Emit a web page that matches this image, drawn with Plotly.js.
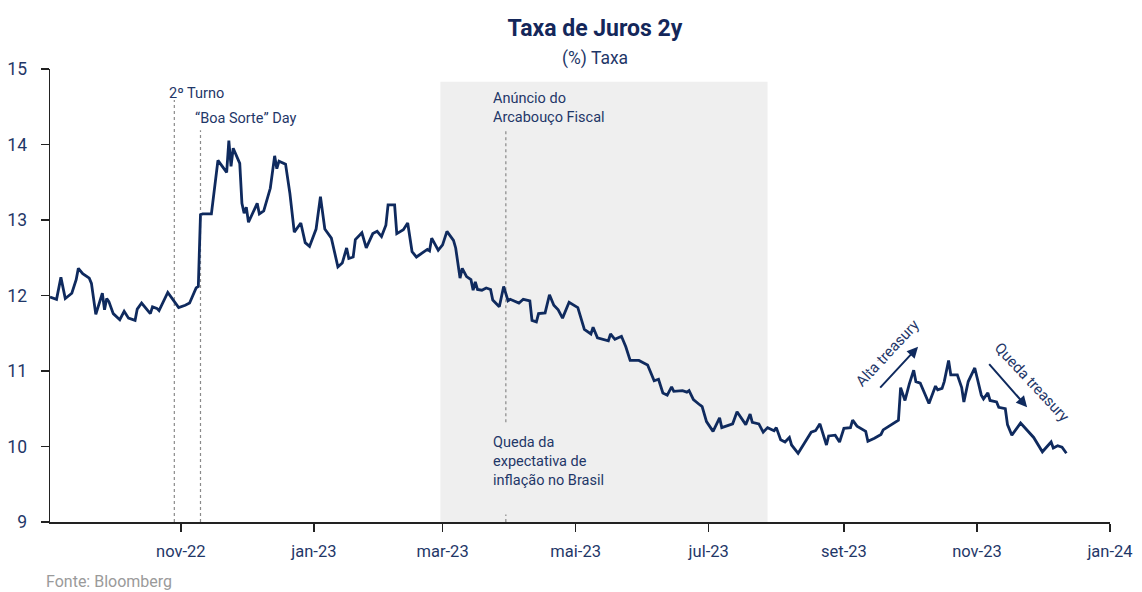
<!DOCTYPE html>
<html>
<head>
<meta charset="utf-8">
<script src="https://cdn.plot.ly/plotly-3.0.1.min.js"></script>
<style>
  html, body { margin: 0; padding: 0; background: #fff; }
  #chart { width: 1142px; height: 592px; }
</style>
</head>
<body>
<div id="chart"></div>
<script>
// ---- Data ----
const dates = [
  '2022-09-02','2022-09-05','2022-09-07','2022-09-09','2022-09-12','2022-09-14','2022-09-15','2022-09-17',
  '2022-09-20','2022-09-21','2022-09-23','2022-09-26','2022-09-27','2022-09-28','2022-09-29','2022-10-01',
  '2022-10-04','2022-10-06','2022-10-08','2022-10-11','2022-10-12','2022-10-14','2022-10-18','2022-10-19',
  '2022-10-21','2022-10-22','2022-10-26','2022-10-31','2022-11-03','2022-11-05','2022-11-08','2022-11-09',
  '2022-11-10','2022-11-11','2022-11-15','2022-11-18','2022-11-22','2022-11-23','2022-11-24','2022-11-25',
  '2022-11-28','2022-11-29','2022-11-30','2022-12-01','2022-12-02','2022-12-06','2022-12-07','2022-12-09',
  '2022-12-12','2022-12-14','2022-12-15','2022-12-16','2022-12-19','2022-12-21','2022-12-23','2022-12-26',
  '2022-12-28','2022-12-30','2023-01-02','2023-01-04','2023-01-06','2023-01-09','2023-01-12','2023-01-14',
  '2023-01-16','2023-01-17','2023-01-19','2023-01-20','2023-01-23','2023-01-25','2023-01-28','2023-01-30',
  '2023-02-01','2023-02-03','2023-02-04','2023-02-07','2023-02-08','2023-02-11','2023-02-13','2023-02-15',
  '2023-02-17','2023-02-22','2023-02-23','2023-02-24','2023-02-27','2023-03-01','2023-03-03','2023-03-06',
  '2023-03-07','2023-03-09','2023-03-10','2023-03-12','2023-03-14','2023-03-15','2023-03-16','2023-03-17',
  '2023-03-19','2023-03-21','2023-03-23','2023-03-24','2023-03-27','2023-03-29','2023-03-31','2023-04-01',
  '2023-04-05','2023-04-07','2023-04-10','2023-04-11','2023-04-13','2023-04-14','2023-04-17','2023-04-19',
  '2023-04-21','2023-04-23','2023-04-25','2023-04-28','2023-05-02','2023-05-05','2023-05-08','2023-05-09',
  '2023-05-11','2023-05-13','2023-05-16','2023-05-17','2023-05-19','2023-05-22','2023-05-24','2023-05-26',
  '2023-05-28','2023-05-30','2023-06-01','2023-06-03','2023-06-06','2023-06-08','2023-06-10','2023-06-12',
  '2023-06-14','2023-06-15','2023-06-19','2023-06-21','2023-06-22','2023-06-24','2023-06-27','2023-06-28',
  '2023-06-30','2023-07-03','2023-07-06','2023-07-07','2023-07-11','2023-07-12','2023-07-14','2023-07-16',
  '2023-07-18','2023-07-20','2023-07-21','2023-07-24','2023-07-26','2023-07-28','2023-07-31','2023-08-01',
  '2023-08-03','2023-08-05','2023-08-07','2023-08-08','2023-08-11','2023-08-14','2023-08-17','2023-08-19',
  '2023-08-21','2023-08-24','2023-08-25','2023-08-28','2023-08-30','2023-09-01','2023-09-04','2023-09-05',
  '2023-09-07','2023-09-11','2023-09-12','2023-09-15','2023-09-18','2023-09-19','2023-09-22','2023-09-25',
  '2023-09-26','2023-09-27','2023-09-29','2023-10-01','2023-10-03','2023-10-04','2023-10-06','2023-10-10',
  '2023-10-13','2023-10-14','2023-10-16','2023-10-17','2023-10-19','2023-10-20','2023-10-23','2023-10-25',
  '2023-10-26','2023-10-28','2023-10-31','2023-11-01','2023-11-03','2023-11-04','2023-11-06','2023-11-07',
  '2023-11-10','2023-11-11','2023-11-14','2023-11-15','2023-11-17','2023-11-21','2023-11-24','2023-11-27',
  '2023-12-01','2023-12-05','2023-12-06','2023-12-08','2023-12-10','2023-12-12'
];
const taxa = [
  11.98,11.95,12.24,11.96,12.03,12.21,12.36,12.29,
  12.23,12.16,11.75,12.03,11.81,11.96,11.92,11.76,
  11.68,11.79,11.70,11.67,11.82,11.90,11.76,11.85,
  11.83,11.80,12.04,11.84,11.87,11.90,12.10,12.12,
  13.07,13.08,13.08,13.79,13.63,14.05,13.71,13.95,
  13.75,13.22,13.09,13.17,12.97,13.22,13.08,13.12,
  13.42,13.85,13.68,13.78,13.74,13.35,12.84,12.96,
  12.70,12.65,12.88,13.31,12.88,12.76,12.38,12.43,
  12.63,12.49,12.51,12.74,12.83,12.63,12.82,12.85,
  12.78,12.93,13.20,13.20,12.82,12.87,12.96,12.58,
  12.51,12.61,12.59,12.76,12.60,12.67,12.85,12.73,
  12.63,12.23,12.36,12.25,12.21,12.07,12.18,12.08,
  12.07,12.10,12.08,11.94,11.85,12.12,11.93,11.95,
  11.90,11.95,11.93,11.67,11.65,11.76,11.77,12.01,
  11.87,11.81,11.70,11.91,11.84,11.55,11.49,11.58,
  11.44,11.42,11.40,11.49,11.42,11.46,11.32,11.14,
  11.14,11.14,11.11,11.08,10.87,10.89,10.71,10.68,
  10.79,10.73,10.74,10.72,10.74,10.62,10.55,10.53,
  10.33,10.20,10.38,10.25,10.29,10.30,10.46,10.38,
  10.29,10.43,10.32,10.30,10.19,10.25,10.21,10.25,
  10.09,10.06,10.12,10.02,9.91,10.05,10.19,10.21,
  10.30,10.02,10.14,10.15,10.06,10.24,10.25,10.35,
  10.27,10.20,10.07,10.11,10.16,10.22,10.28,10.33,
  10.35,10.78,10.61,10.83,11.01,10.86,10.84,10.57,
  10.80,10.75,10.77,10.86,11.14,10.95,10.95,10.78,
  10.59,10.86,11.04,10.92,10.68,10.63,10.71,10.61,
  10.59,10.52,10.50,10.29,10.15,10.31,10.22,10.12,
  9.93,10.06,9.98,10.01,9.99,9.91
];
const tickDates  = ['2022-11-01','2023-01-01','2023-03-01','2023-05-01','2023-07-01','2023-09-01','2023-11-01','2024-01-01'];
const tickLabels = ['nov-22','jan-23','mar-23','mai-23','jul-23','set-23','nov-23','jan-24'];
const yTicks = [9, 10, 11, 12, 13, 14, 15];

const eventTurno = '2022-10-29';
const eventBoaSorte = '2022-11-10';
const eventArcabouco = '2023-03-30';
const shadeStart = '2023-02-28';
const shadeEnd = '2023-07-28';

// ---- Styling ----
const NAVY = '#0f2a5e';
const TEXT = '#1f3768';
const FONT = 'Roboto, "Liberation Sans", sans-serif';

const trace = {
  x: dates, y: taxa, type: 'scatter', mode: 'lines',
  line: { color: NAVY, width: 2.8 },
  hoverinfo: 'skip'
};

const dashed = { color: '#8a8a8a', width: 1.2, dash: '3px,3px' };

const layout = {
  width: 1142, height: 592,
  margin: { l: 50, r: 32, t: 69, b: 70 },
  paper_bgcolor: '#ffffff', plot_bgcolor: '#ffffff',
  showlegend: false,
  font: { family: FONT, color: TEXT },
  title: {
    text: '<b>Taxa de Juros 2y</b>',
    font: { family: FONT, size: 23, color: '#14275a' },
    x: 0.521, xanchor: 'center', xref: 'container',
    y: 0.953, yanchor: 'middle', yref: 'container'
  },
  xaxis: {
    type: 'date',
    range: ['2022-09-02', '2024-01-01'],
    tickvals: tickDates, ticktext: tickLabels,
    ticks: 'outside', ticklen: 8, tickcolor: '#222', tickwidth: 1.3,
    showline: true, linecolor: '#222', linewidth: 1.5,
    showgrid: false, zeroline: false,
    tickfont: { family: FONT, size: 16.5, color: TEXT },
    ticklabelstandoff: 6,
    fixedrange: true
  },
  yaxis: {
    range: [9, 15],
    tickvals: yTicks,
    ticks: 'outside', ticklen: 8, tickcolor: '#222', tickwidth: 1.3,
    showline: true, linecolor: '#222', linewidth: 1.5,
    showgrid: false, zeroline: false,
    tickfont: { family: FONT, size: 17.5, color: TEXT },
    ticklabelstandoff: 10,
    fixedrange: true
  },
  shapes: [
    { type: 'rect', xref: 'x', yref: 'y', x0: shadeStart, x1: shadeEnd, y0: 9, y1: 14.83,
      fillcolor: '#efefef', line: { width: 0 }, layer: 'below' },
    { type: 'line', xref: 'x', yref: 'y', x0: eventTurno, x1: eventTurno, y0: 9, y1: 14.59, line: dashed, layer: 'below' },
    { type: 'line', xref: 'x', yref: 'y', x0: eventBoaSorte, x1: eventBoaSorte, y0: 9, y1: 14.19, line: dashed, layer: 'below' },
    { type: 'line', xref: 'x', yref: 'y', x0: eventArcabouco, x1: eventArcabouco, y0: 10.32, y1: 14.19, line: dashed, layer: 'below' },
    { type: 'line', xref: 'x', yref: 'y', x0: eventArcabouco, x1: eventArcabouco, y0: 9, y1: 9.1, line: dashed, layer: 'below' }
  ],
  annotations: [
    { text: '(%) Taxa', xref: 'paper', yref: 'paper', x: 0.514, y: 1.024,
      xanchor: 'center', yanchor: 'middle', showarrow: false,
      font: { family: FONT, size: 17.5, color: TEXT } },
    { text: '2º Turno', xref: 'x', yref: 'y', x: '2022-10-27', y: 14.68, xshift: -3,
      xanchor: 'left', yanchor: 'middle', showarrow: false,
      font: { family: FONT, size: 14.5, color: TEXT } },
    { text: '“Boa Sorte” Day', xref: 'x', yref: 'y', x: '2022-11-08', y: 14.35, xshift: -3,
      xanchor: 'left', yanchor: 'middle', showarrow: false,
      font: { family: FONT, size: 14.5, color: TEXT } },
    { text: 'Anúncio do<br>Arcabouço Fiscal', xref: 'x', yref: 'y', x: '2023-03-25', y: 14.48, xshift: -4,
      xanchor: 'left', yanchor: 'middle', align: 'left', showarrow: false,
      font: { family: FONT, size: 14.5, color: TEXT } },
    { text: 'Queda da<br>expectativa de<br>inflação no Brasil', xref: 'x', yref: 'y', x: '2023-03-25', y: 9.795, xshift: -4,
      xanchor: 'left', yanchor: 'middle', align: 'left', showarrow: false,
      font: { family: FONT, size: 14.5, color: TEXT } },
    { text: '', xref: 'x', yref: 'y', axref: 'x', ayref: 'y',
      x: '2023-10-05', y: 11.32, ax: '2023-09-17', ay: 10.76,
      showarrow: true, arrowhead: 2, arrowsize: 1.1, arrowwidth: 2, arrowcolor: NAVY },
    { text: '', xref: 'x', yref: 'y', axref: 'x', ayref: 'y',
      x: '2023-11-24', y: 10.52, ax: '2023-11-06', ay: 11.11,
      showarrow: true, arrowhead: 2, arrowsize: 1.1, arrowwidth: 2, arrowcolor: NAVY },
    { text: 'Alta treasury', xref: 'x', yref: 'y', x: '2023-09-21', y: 11.24,
      textangle: -47, showarrow: false, xanchor: 'center', yanchor: 'middle',
      font: { family: FONT, size: 15, color: TEXT } },
    { text: 'Queda treasury', xref: 'x', yref: 'y', x: '2023-11-26', y: 10.85,
      textangle: 47, showarrow: false, xanchor: 'center', yanchor: 'middle',
      font: { family: FONT, size: 15, color: TEXT } },
    { text: 'Fonte: Bloomberg', xref: 'paper', yref: 'paper', x: -0.006, y: -0.132,
      xanchor: 'left', yanchor: 'middle', showarrow: false,
      font: { family: FONT, size: 16, color: '#9a9a9a' } }
  ]
};

Plotly.newPlot('chart', [trace], layout, { displayModeBar: false, staticPlot: true });
</script>
</body>
</html>
